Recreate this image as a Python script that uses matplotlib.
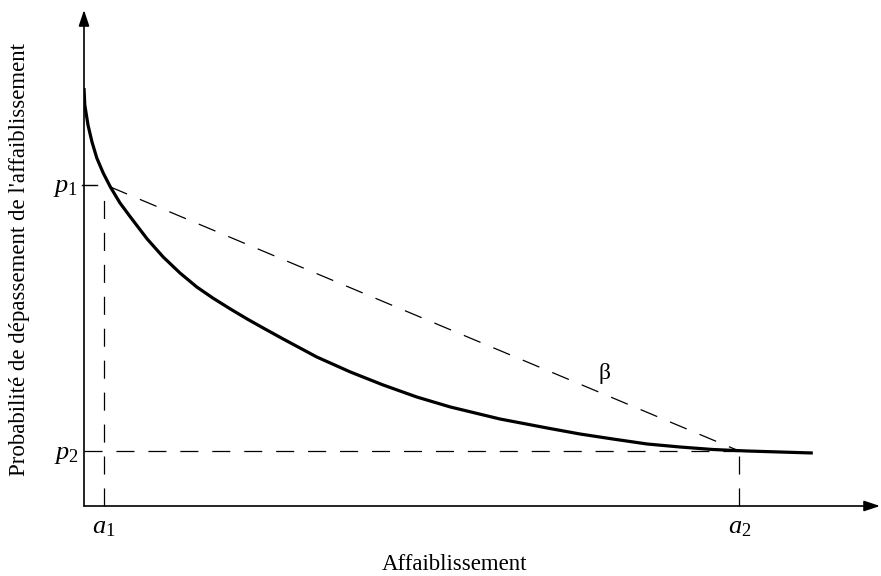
import matplotlib
matplotlib.use("Agg")
import matplotlib.pyplot as plt

plt.rcParams['font.family'] = ['Liberation Serif', 'DejaVu Serif']
plt.rcParams['mathtext.fontset'] = 'custom'
plt.rcParams['mathtext.rm'] = 'Liberation Serif'
plt.rcParams['mathtext.it'] = 'Liberation Serif:italic'
plt.rcParams['lines.scale_dashes'] = False

# curve (arbitrary units)
affaib = [0.0, 0.01, 0.05, 0.1, 0.16, 0.24, 0.33, 0.45, 0.58, 0.79, 0.99, 1.2,
          1.41, 1.61, 1.83, 2.04, 2.24, 2.49, 2.91, 3.33, 3.74, 4.16, 4.58, 5.2,
          5.79, 6.2, 6.61, 7.04, 7.45, 7.86, 8.29, 8.7, 9.11]
proba = [8.36, 8.02, 7.62, 7.28, 6.96, 6.66, 6.38, 6.06, 5.78, 5.34, 4.98, 4.66,
         4.38, 4.16, 3.94, 3.74, 3.56, 3.34, 2.98, 2.68, 2.42, 2.18, 1.98, 1.74,
         1.56, 1.44, 1.34, 1.24, 1.18, 1.13, 1.10, 1.08, 1.06]

a1, a2 = 0.25, 8.19
p1, p2 = 6.42, 1.10
beta_start = (0.33, 6.38)   # where the secant leaves the curve

xmax, ymax = 9.95, 9.92

fig = plt.figure(figsize=(8.81, 5.76), dpi=100)
ax = fig.add_axes([84 / 881, 70 / 576, 796 / 881, 496 / 576])
ax.set_xlim(0, xmax)
ax.set_ylim(0, ymax)
for s in ax.spines.values():
    s.set_visible(False)

# axes with arrow heads
arrow = dict(arrowstyle='-|>,head_length=0.6,head_width=0.2', lw=1.2,
             color='black', mutation_scale=16, shrinkA=0, shrinkB=0)
ax.annotate('', xy=(1, 0), xytext=(0, 0), xycoords='axes fraction', arrowprops=arrow)
ax.annotate('', xy=(0, 1), xytext=(0, 0), xycoords='axes fraction', arrowprops=arrow)

dash = dict(color='black', lw=0.9, dashes=(13, 10), clip_on=False)
ax.plot([a1, a1], [0, p1 - 0.1], **dash)
ax.plot([0, a2], [p2, p2], **dash)
ax.plot([a2, a2], [0, p2], **dash)
ax.plot([beta_start[0], a2], [beta_start[1], p2], **dash)

# small tick at p1
ax.plot([-0.03, 0.16], [p1, p1], color='black', lw=1.0, clip_on=False)

ax.plot(affaib, proba, color='black', lw=2.3, solid_capstyle='butt')

ax.text(6.5, 2.65, 'β', fontsize=17, ha='center', va='center')

ax.set_xticks([a1, a2], ['$a_1$', '$a_2$'], fontsize=19)
ax.set_yticks([p2, p1], ['$p_2$', '$p_1$'], fontsize=19)
ax.tick_params(length=0)
ax.tick_params(axis='x', pad=8)
ax.tick_params(axis='y', pad=4)

fig.text(455 / 881, 1 - 564 / 576, 'Affaiblissement', fontsize=16.5,
         ha='center', va='center')
fig.text(20 / 881, 1 - 260 / 576, "Probabilité de dépassement de l'affaiblissement",
         fontsize=16.5, ha='center', va='center', rotation=90)

fig.savefig('out.png', dpi=100)
